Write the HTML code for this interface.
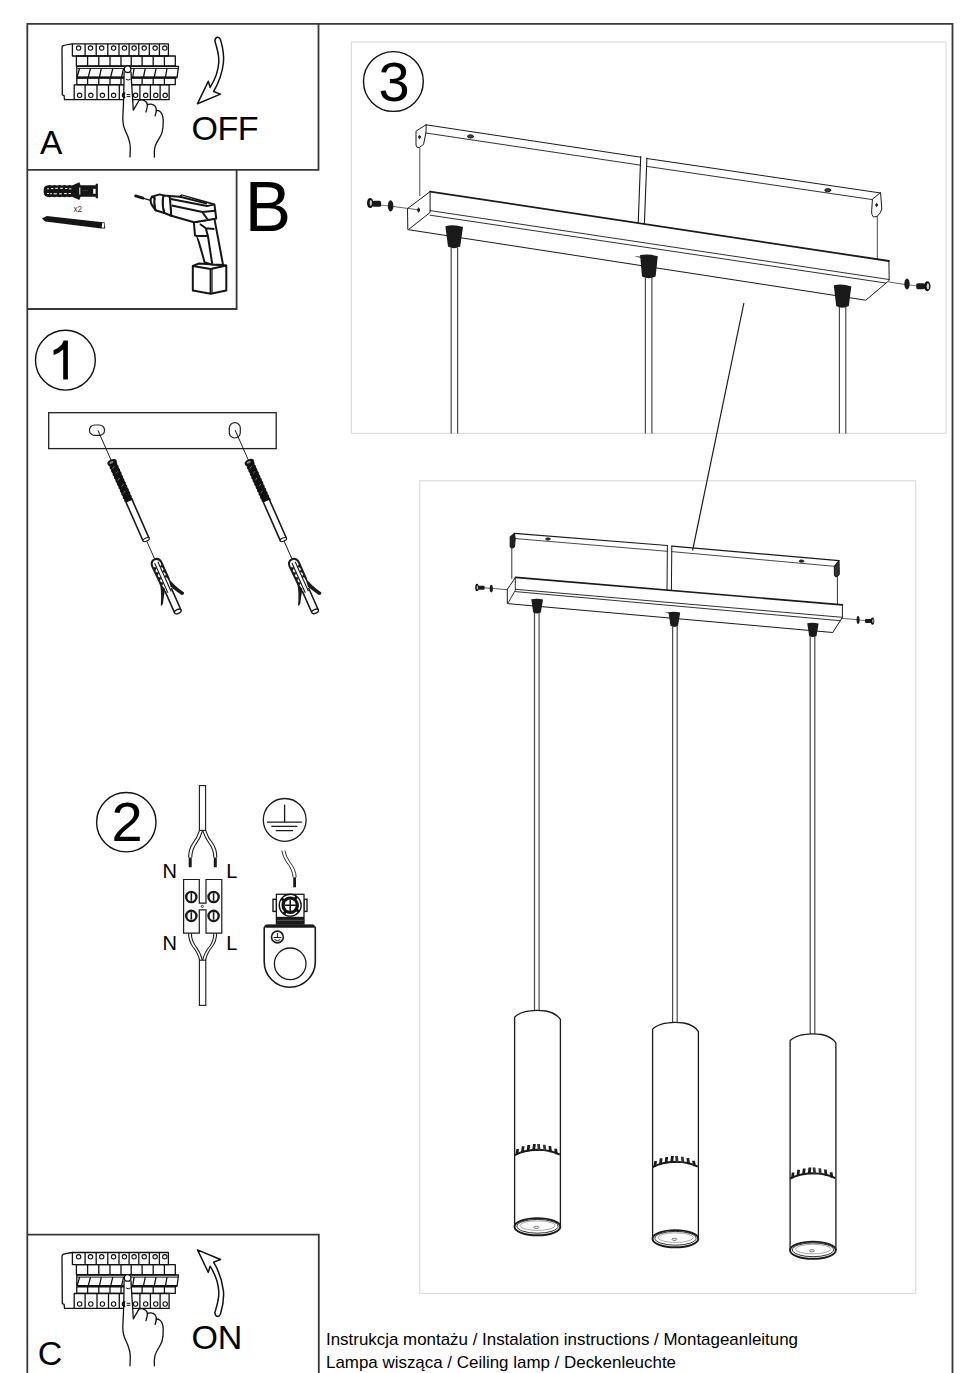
<!DOCTYPE html>
<html><head><meta charset="utf-8">
<style>
html,body{margin:0;padding:0;background:#fff;width:970px;height:1373px;overflow:hidden}
svg{display:block;position:absolute;left:0;top:0}
text{font-family:"Liberation Sans",sans-serif;fill:#000}
</style></head><body>
<svg width="970" height="1373" viewBox="0 0 970 1373">
<g fill="none" stroke="#383838" stroke-width="1.8">
<!-- outer frame -->
<path d="M27.3 1373 V23.8 H952.5 V1373"/>
<!-- panel A -->
<path d="M27.3 169.9 H318.5 V23.8"/>
<!-- panel B -->
<path d="M27.3 309 H236.6 V169.9"/>
<!-- panel C -->
<path d="M27.3 1234.6 H318.8 V1373"/>
</g>
<!-- light gray panel frames -->
<g fill="none" stroke="#ddd" stroke-width="1.2">
<rect x="351.4" y="42" width="594.6" height="391.4"/>
<rect x="419.7" y="480.7" width="495.9" height="812.7"/>
</g>

<!-- PANEL 3 drawing -->
<g fill="none" stroke="#1a1a1a" stroke-width="1" stroke-linejoin="round" stroke-linecap="round">
<!-- bracket -->
<path d="M425.9 124.8 L640.7 157.2 M646.9 158.5 L880.6 193"/>
<path d="M425.9 133 L640.7 165.2 M646.9 166.4 L872.4 199.6" stroke-width="0.9"/>
<path d="M425.9 124.8 L416 131.2 L416 145 Q416.5 148.5 419 147.5 L423.5 144.5 L425.9 133 Z"/>
<path d="M880.6 193 L881.8 209 Q881 213 877 216.5 L873.5 217 Q871.5 215 871.6 212 L872.4 199.6 Z"/>
<path d="M419.8 147.8 V195.8 M877.3 216.5 V258.5" stroke-width="0.8"/>
<path d="M640.7 156.6 L638.2 222.9 M646.9 158 L644.4 223.6" stroke-width="1.1"/>
<ellipse cx="470.5" cy="136.4" rx="3" ry="1.6" fill="#444"/>
<ellipse cx="827.8" cy="190.2" rx="3" ry="1.6" fill="#444"/>
<ellipse cx="419.5" cy="137" rx="0.8" ry="1.6" fill="#444"/>
<ellipse cx="876.6" cy="205" rx="0.8" ry="1.6" fill="#444"/>
<!-- box -->
<path d="M430.1 191.6 L888.9 261" stroke-width="1.8"/>
<path d="M430.1 191.6 L407.5 208.6 L407.8 229.6 L865.8 300.2 L889.2 280.4 L888.9 261"/>
<path d="M430.1 191.6 V212.5 L409.4 228.8"/>
<path d="M430.1 210.6 L888.9 279.5" stroke-width="0.9"/>
<path d="M430.1 215.2 L885.6 283" stroke-width="0.9"/>
<ellipse cx="418.6" cy="210" rx="0.9" ry="2" fill="#333"/>
<!-- screws -->
<path d="M393 206.5 L418.5 209.8 M888.9 282 L905.4 284.5" stroke-width="0.7"/>
</g>
<g fill="#1a1a1a" stroke="none">
<!-- grips -->
<path d="M445.4 226.2 Q454 224.2 463 227 L460.2 246.5 Q454 250 448 246.5 Z"/>
<path d="M640.1 255.1 Q649 253.5 657.8 256.3 L655.6 276.5 Q649 280 642 276.5 Z"/>
<path d="M633.9 256 L641 256.8 L641 258 Z"/>
<path d="M833.8 285.3 Q842.5 283.5 851.3 286.5 L848.8 306 Q842.5 309.5 836.2 306 Z"/>
<!-- left screw -->
<path d="M381 205.2 L388 205.8" stroke="#444" stroke-width="0.7"/>
<rect x="372.5" y="200.8" width="8.6" height="6" rx="1.6"/>
<ellipse cx="370.2" cy="203.1" rx="3.2" ry="5" fill="#111"/>
<ellipse cx="370.8" cy="203.1" rx="1.2" ry="3" fill="#ccc"/>
<ellipse cx="390.6" cy="205.9" rx="2.8" ry="5.6"/>
<!-- right screw -->
<path d="M909.5 285 L916.5 285.8" stroke="#444" stroke-width="0.7"/>
<rect x="916.2" y="283.2" width="8.8" height="6" rx="1.6"/>
<ellipse cx="927.3" cy="286.3" rx="3.2" ry="5" fill="#111"/>
<ellipse cx="927.9" cy="286.3" rx="1.3" ry="3" fill="#ccc"/>
<ellipse cx="907" cy="284" rx="2.7" ry="5.4"/>
</g>
<!-- cords -->
<g fill="none" stroke="#4a4a4a" stroke-width="1.2">
<path d="M451.2 248 V433.4 M457.6 248 V433.4"/>
<path d="M645.4 277.5 V433.4 M651.9 277.5 V433.4"/>
<path d="M839.4 307 V433.4 M845.8 307 V433.4"/>
</g>
<path d="M743.9 303 L692.6 550.4" stroke="#1a1a1a" stroke-width="1.2" fill="none"/>

<!-- PANEL 4 drawing -->
<g fill="none" stroke="#1a1a1a" stroke-width="1" stroke-linejoin="round" stroke-linecap="round">
<!-- bracket -->
<path d="M514.4 533.4 L667.4 545.5 M671.8 546.2 L839 560.6" stroke-width="1.2"/>
<path d="M515.5 538.6 L667.4 551.3 M671.8 551.6 L834.4 566.3" stroke-width="0.8"/>
<path d="M514.4 533.4 L510.2 537 L510.2 546.5 Q511.5 549.5 514.5 546.5 L515.2 538.6 Z" fill="#222" stroke-width="1.1"/>
<path d="M839 560.6 L839.3 574 Q838 577 835.5 576.5 L834.4 575 L834.4 566.3 Z" fill="#333" stroke-width="1.1"/>
<path d="M511.8 548 V578.5 M837.4 576.5 V603.7" stroke-width="0.9"/>
<path d="M667.4 545.5 L667 590.2 M671.8 546.2 L671.4 590.6" stroke-width="1"/>
<ellipse cx="547.9" cy="539" rx="2.2" ry="1.1" fill="#222"/>
<ellipse cx="801.5" cy="561.1" rx="2.2" ry="1.1" fill="#222"/>
<!-- box -->
<path d="M515.5 577.4 L842.4 604.8" stroke-width="1.7"/>
<path d="M515.3 577.6 L507.3 589.4 L507.3 603.6 L832.8 632.5 L842.4 617.3 L842.4 604.8"/>
<path d="M515.3 577.6 V590.4 L508 603" stroke-width="0.9"/>
<path d="M515.5 589.3 L842.4 617.3" stroke-width="0.9"/>
<path d="M515.5 591.6 L840.1 620.7" stroke-width="0.9"/>
<path d="M484.6 587.8 L489.8 588.3 M492.9 588.5 L507.3 589.7 M842.4 618.5 L857 619.6" stroke-width="0.7"/>
</g>
<g fill="#1a1a1a" stroke="none">
<path d="M531.3 599.3 Q537 598 543 599.5 L540.8 612.5 Q537 614.5 533.2 612.5 Z"/>
<path d="M668.5 612.2 Q674.3 611 680.2 612.5 L678 625.8 Q674.3 628 670.5 625.8 Z"/>
<path d="M664 612.3 L669 612.6 L669 613.4 Z"/>
<path d="M807.2 623.3 Q812.9 622 818.6 623.6 L816.5 636 Q812.9 638 809.2 636 Z"/>
<rect x="478.2" y="585.7" width="6.4" height="4" rx="1"/>
<ellipse cx="477" cy="587.5" rx="1.8" ry="3.7" fill="#111"/>
<ellipse cx="477.4" cy="587.5" rx="0.7" ry="2.1" fill="#bbb"/>
<ellipse cx="491.3" cy="588.6" rx="1.6" ry="3.8"/>
<path d="M859.4 620 L865.2 620.6" stroke="#333" stroke-width="0.7"/>
<rect x="865" y="618.9" width="6.6" height="4.1" rx="1"/>
<ellipse cx="872.5" cy="621.1" rx="1.8" ry="3.6" fill="#111"/>
<ellipse cx="872.9" cy="621.1" rx="0.7" ry="2" fill="#bbb"/>
<ellipse cx="858.1" cy="619.9" rx="1.5" ry="3.9"/>
</g>
<!-- cords -->
<g fill="none" stroke="#4a4a4a" stroke-width="1.2">
<path d="M534.5 612.5 V1011 M539.1 612.5 V1011"/>
<path d="M672.6 625.8 V1023 M677.2 625.8 V1023"/>
<path d="M810.2 636 V1034.5 M814.8 636 V1034.5"/>
</g>
<!-- lamps -->
<defs>
<g id="lamp">
<path d="M514.6 1017 Q520 1012 530 1010.8 Q537 1009.8 546 1011 Q556 1013 560.4 1019.4 V1227 M514.6 1017 V1226.5" fill="#fff" stroke="#1a1a1a" stroke-width="1.3"/>
<path d="M514.6 1155.2 Q524 1150.2 537.1 1149.8 Q551 1150 559.8 1154.7" fill="none" stroke="#1a1a1a" stroke-width="2"/>
<g stroke="none">
<path d="M516.3 1149.1 L519.0 1149.1 L518.2 1154.7 L515.5 1154.7 Z" fill="#1a1a1a"/>
<path d="M521.8 1146.3 L524.5 1146.3 L523.8 1152.6 L521.0 1152.6 Z" fill="#1a1a1a"/>
<path d="M527.4 1144.9 L530.1 1144.9 L529.4 1151.2 L526.6 1151.2 Z" fill="#1a1a1a"/>
<path d="M533.0 1144.1 L535.8 1144.1 L535.0 1150.4 L532.2 1150.4 Z" fill="#1a1a1a"/>
<path d="M537.1 1144.1 L539.9 1144.1 L540.6 1150.4 L537.9 1150.4 Z" fill="#333"/>
<path d="M542.9 1144.7 L545.6 1144.7 L546.4 1151.0 L543.6 1151.0 Z" fill="#333"/>
<path d="M548.5 1145.9 L551.2 1145.9 L552.0 1152.2 L549.2 1152.2 Z" fill="#1a1a1a"/>
<path d="M554.2 1148.7 L557.0 1148.7 L557.8 1154.3 L555.0 1154.3 Z" fill="#1a1a1a"/>
</g>
<ellipse cx="537.4" cy="1226.7" rx="22.9" ry="8.6" fill="#fff" stroke="#1a1a1a" stroke-width="1.9"/>
<ellipse cx="537.5" cy="1226.3" rx="20.6" ry="6.9" fill="none" stroke="#1a1a1a" stroke-width="0.9"/>
<ellipse cx="537.6" cy="1225.6" rx="17.5" ry="4.8" fill="none" stroke="#555" stroke-width="0.5"/>
<ellipse cx="536.4" cy="1227.3" rx="2.4" ry="1.1" fill="none" stroke="#1a1a1a" stroke-width="0.6"/>
</g>
</defs>
<use href="#lamp"/>
<use href="#lamp" transform="translate(138,12)"/>
<use href="#lamp" transform="translate(275.5,23.5)"/>

<!-- PANEL 1 drawing -->
<rect x="48.7" y="412.7" width="227.5" height="35.9" fill="none" stroke="#222" stroke-width="1.3"/>
<rect x="89.5" y="425" width="15" height="10.4" rx="5" fill="none" stroke="#222" stroke-width="1.2"/>
<rect x="229.3" y="422.6" width="11" height="15.4" rx="5.5" fill="none" stroke="#222" stroke-width="1.2"/>
<defs>
<g id="screw">
<path d="M0 0 V34 M0 120 V141" stroke="#1a1a1a" stroke-width="0.9" fill="none"/>
<path d="M-4 35.5 L4 35.5 Q5.2 37.3 3.9 39.1 Q5.2 40.9 3.9 42.7 Q5.2 44.5 3.9 46.3 Q5.2 48.1 3.9 49.9 Q5.2 51.7 3.9 53.5 Q5.2 55.3 3.9 57.1 Q5.2 58.9 3.9 60.7 Q5.2 62.5 3.9 64.3 Q5.2 66.1 3.9 67.9 Q5.2 69.7 3.9 71.5 Q5.2 73.3 3.9 75.1 Q5.2 76.9 3.9 78.7 L3.6 77.5 L-3.6 77.5 Q-5.2 75.7 -3.9 73.9 Q-5.2 72.1 -3.9 70.3 Q-5.2 68.5 -3.9 66.7 Q-5.2 64.9 -3.9 63.1 Q-5.2 61.3 -3.9 59.5 Q-5.2 57.7 -3.9 55.9 Q-5.2 54.1 -3.9 52.3 Q-5.2 50.5 -3.9 48.7 Q-5.2 46.9 -3.9 45.1 Q-5.2 43.3 -3.9 41.5 Q-5.2 39.7 -3.9 37.9 Q-5.2 36.1 -3.9 34.3 Z" fill="#111"/>
<path d="M-2.2 41 L0.5 39.5 M-1 47 L1.6 45.5 M-2 54 L0.6 52.5 M-0.8 61 L1.8 59.5 M-2 68 L0.6 66.5" stroke="#999" stroke-width="0.6"/>
<ellipse cx="0" cy="35" rx="5" ry="3" fill="#111"/>
<ellipse cx="-0.6" cy="34.8" rx="2.2" ry="1.1" fill="#888"/>
<path d="M-3.3 77 L-3.3 119.5 M3.3 77 L3.3 119.5" stroke="#1a1a1a" stroke-width="1.6" fill="none"/>
<ellipse cx="0" cy="119.5" rx="3.4" ry="1.6" fill="#fff" stroke="#1a1a1a" stroke-width="1.1"/>
<path d="M-3.5 174 L-3.5 198 M3.5 174 L3.5 198" stroke="#1a1a1a" stroke-width="1.6" fill="none"/>
<ellipse cx="0" cy="198" rx="3.6" ry="2" fill="#fff" stroke="#1a1a1a" stroke-width="1.3"/>
<path d="M-0.3 141 Q-5.2 141.5 -5.2 146.5 L-4.6 166.5 M-0.3 141 Q4.4 141 4.9 146.5 L4.9 165.5" fill="none" stroke="#1a1a1a" stroke-width="2"/>
<path d="M-1.7 144.5 L-1.5 177 M1.8 144.5 L2 177" stroke="#1a1a1a" stroke-width="1.1"/>
<path d="M-4.6 148 L-1.8 149.5 L-4.5 151.5 Z M-4.5 153.5 L-1.8 155 L-4.5 157 Z M-4.4 159 L-1.7 160.5 L-4.4 162.5 Z M-4.3 164.5 L-1.7 166 L-4.3 168 Z M4.7 148.5 L1.9 150 L4.7 152 Z M4.7 154 L1.9 155.5 L4.7 157.5 Z M4.7 159.5 L2 161 L4.7 163 Z" fill="#1a1a1a" stroke="#1a1a1a" stroke-width="0.6"/>
<path d="M-5.2 164 Q-5.8 172 -13.3 186 Q-12 186.5 -10.5 185 Q-6.5 178 -2.5 172.5 Z" fill="#1a1a1a"/>
<path d="M4.6 162.5 Q6.6 173 13.4 183.2 Q12.5 185.5 10 184.5 Q6.2 178 3.4 172.5 Z" fill="#1a1a1a"/>
</g>
</defs>
<use href="#screw" transform="translate(97.9,430.3) rotate(-23.8)"/>
<use href="#screw" transform="translate(235.2,430.2) rotate(-23.8)"/>

<!-- PANEL 2 drawing -->
<g fill="none" stroke="#1a1a1a" stroke-width="1.1">
<rect x="199.4" y="785.6" width="6.2" height="44.8" fill="#fff"/>
<path d="M199.6 830.4 Q197 838 193 843 Q188.6 849 188.6 857.5 M202.6 830.4 Q200.5 838 196 844 Q191.8 850 191.8 857.5"/>
<path d="M202.6 830.4 Q205 838 209.5 844 Q213.8 850 213.8 857.5 M205.6 830.4 Q208 838 212.5 843 Q216.8 849 216.8 857.5"/>
</g>
<path d="M190.2 857.5 V867.2 M215.3 857.5 V867.2" stroke="#1a1a1a" stroke-width="3"/>
<text x="162.4" y="877.9" font-size="20">N</text>
<text x="226.2" y="877.9" font-size="20">L</text>
<text x="162.4" y="949.5" font-size="20">N</text>
<text x="226.2" y="949.5" font-size="20">L</text>
<g fill="none" stroke="#1a1a1a" stroke-width="1.2">
<path d="M183.6 879.5 H199.3 V903.2 H206 V879.5 H221.8 V933.2 H206 V909.8 H199.3 V933.2 H183.6 Z"/>
<circle cx="202.3" cy="906.4" r="1.1" stroke-width="0.8"/>
</g>
<g fill="none" stroke="#1a1a1a">
<circle cx="191.3" cy="897" r="5.1" stroke-width="2.4"/>
<circle cx="213.6" cy="897" r="5.1" stroke-width="2.4"/>
<circle cx="191.3" cy="915.9" r="5.1" stroke-width="2.4"/>
<circle cx="213.6" cy="915.9" r="5.1" stroke-width="2.4"/>
<path d="M191.3 893.3 V900.7 M213.6 893.3 V900.7 M191.3 912.2 V919.6 M213.6 912.2 V919.6" stroke-width="1.6"/>
</g>
<g fill="none" stroke="#1a1a1a" stroke-width="1.1">
<path d="M188.6 933.2 Q188.6 941 193 947 Q198 953 199.6 960.2 M191.4 933.2 Q191.4 940 195.5 946 Q200.3 952 202.4 960.2"/>
<path d="M216.6 933.2 Q216.6 941 212 947 Q207 953 205.6 960.2 M213.8 933.2 Q213.8 940 210 946 Q204.5 952 202.6 960.2"/>
<rect x="199.4" y="960.2" width="6.4" height="45.2" fill="#fff"/>
</g>
<!-- ground symbol -->
<g fill="none" stroke="#1a1a1a" stroke-width="1.3">
<circle cx="284.7" cy="819.9" r="21.4"/>
<path d="M284.6 804.8 V822 M267 822.2 H301.9 M271.4 826.3 H297.4 M275.8 830.6 H293"/>
<path d="M281.8 850.5 Q282.5 856 286.5 862 Q292.8 870 293 877.3 M285 850.5 Q285.7 856 289.5 861.5 Q296 869.5 296.2 877.3" stroke-width="0.9"/>
</g>
<path d="M294.6 877.3 V887.3" stroke="#1a1a1a" stroke-width="2.8"/>
<!-- ground terminal -->
<path d="M264.2 961.7 V929 Q264.2 925.2 268 925.2 H311.5 Q315.3 925.2 315.3 929 V961.7 A25.55 25.55 0 0 1 264.2 961.7 Z" fill="#fff" stroke="#1a1a1a" stroke-width="1.6"/>
<path d="M265.5 926.2 H314" stroke="#1a1a1a" stroke-width="3"/>
<circle cx="290.2" cy="963.8" r="15.8" fill="none" stroke="#1a1a1a" stroke-width="1.3"/>
<circle cx="277.4" cy="937" r="5.9" fill="none" stroke="#1a1a1a" stroke-width="1.6"/>
<path d="M277.4 933 V937.5 M273.5 937.5 H281.3 M274.5 939.5 Q277.4 942 280.3 939.5" fill="none" stroke="#1a1a1a" stroke-width="1"/>
<rect x="273" y="899.3" width="3.5" height="12.1" fill="#fff" stroke="#1a1a1a" stroke-width="1.4"/>
<rect x="304" y="899.3" width="3" height="12.1" fill="#fff" stroke="#1a1a1a" stroke-width="1.4"/>
<rect x="276.4" y="894.3" width="27.6" height="29.7" fill="#fff" stroke="#1a1a1a" stroke-width="1.3"/>
<rect x="276.4" y="916.8" width="27.6" height="7.5" fill="#1a1a1a"/>
<path d="M277 920.3 H303.5" stroke="#777" stroke-width="0.7"/>
<circle cx="290.2" cy="905.2" r="11.6" fill="#111"/>
<circle cx="290.2" cy="905.2" r="9.5" fill="none" stroke="#fff" stroke-width="1.5" stroke-dasharray="12 2.9" stroke-dashoffset="7.5"/>
<circle cx="290.2" cy="905.2" r="5.6" fill="#fff"/>
<path d="M290.2 899.4 V911 M284.4 905.2 H296" stroke="#111" stroke-width="1.5"/>

<!-- PANEL A / C breakers -->
<defs>
<g id="breaker">
<g fill="none" stroke="#111" stroke-width="1.3" stroke-linejoin="round">
<path d="M72.4 43.8 Q66 44.6 63.2 45.7 Q62 46.3 62 48 L62.3 95 L64.1 95.7 L64.5 99.7 L74.2 99.7"/>
<rect x="72.4" y="43.8" width="96" height="12.2"/>
<path d="M85.1 43.8 V56 M96.2 43.8 V56 M107.8 43.8 V56 M119 43.8 V56 M129.1 43.8 V56 M138.8 43.8 V56 M149.3 43.8 V56 M159.4 43.8 V56"/>
<rect x="76.4" y="56" width="98.9" height="9.9"/>
<path d="M87.6 56 V65.9 M98.8 56 V65.9 M110 56 V65.9 M121 56 V65.9 M131.2 56 V65.9 M142.1 56 V65.9 M153.2 56 V65.9 M164.4 56 V65.9"/>
<path d="M76.8 66.3 H178.5 L177.1 77.3 H76.8 Z"/>
<path d="M77.5 68.4 H178.2" stroke-width="1"/>
<path d="M79.6 68.4 L77.1 77 M90.5 68.4 L88.3 77 M101.3 68.4 L99.5 77 M112.8 68.4 L110.7 77 M123.6 68.4 L121.6 77 M134.1 68.4 L132.7 77 M145.3 68.4 L143.5 77 M156.1 68.4 L154.3 77 M167 68.4 L165.5 77"/>
<path d="M76.8 77.4 H177" stroke-width="2"/>
<rect x="76.8" y="78.2" width="98.5" height="6.5"/>
<path d="M87.6 78.2 V84.7 M98.8 78.2 V84.7 M110 78.2 V84.7 M121 78.2 V84.7 M131.2 78.2 V84.7 M142.1 78.2 V84.7 M153.2 78.2 V84.7 M164.4 78.2 V84.7"/>
<rect x="74.2" y="84.8" width="94.9" height="14.9"/>
<path d="M85.1 84.8 V99.7 M97 84.8 V99.7 M108.5 84.8 V99.7 M119.3 84.8 V99.7 M129.4 84.8 V99.7 M139.9 84.8 V99.7 M150.4 84.8 V99.7 M160.1 84.8 V99.7"/>
</g>
<g fill="#fff" stroke="#111" stroke-width="1.1">
<circle cx="78.6" cy="48.1" r="2.2"/>
<circle cx="90.5" cy="48.1" r="2.2"/>
<circle cx="101.7" cy="48.1" r="2.2"/>
<circle cx="113.6" cy="48.1" r="2.2"/>
<circle cx="124.4" cy="48.1" r="2.2"/>
<circle cx="134.1" cy="48.1" r="2.2"/>
<circle cx="144.2" cy="48.1" r="2.2"/>
<circle cx="155.1" cy="48.1" r="2.2"/>
<circle cx="164.8" cy="48.1" r="2.2"/>
<circle cx="79.6" cy="95.3" r="2.2"/>
<circle cx="90.8" cy="95.3" r="2.2"/>
<circle cx="102.4" cy="95.3" r="2.2"/>
<circle cx="113.6" cy="95.3" r="2.2"/>
<circle cx="124.5" cy="95.3" r="2.2"/>
<circle cx="135.6" cy="95.3" r="2.2"/>
<circle cx="145.7" cy="95.3" r="2.2"/>
<circle cx="155.8" cy="95.3" r="2.2"/>
<circle cx="165.2" cy="95.3" r="2.2"/>
</g>
<path d="M124.1 72 L131 72 C131.6 85 132.6 97 133.3 110.1 L139 100.5 C141 99.6 145 100 147.3 104 C149.5 103.6 154 104 156.3 110.3 C160 110 163.2 114 163.2 120 C163.4 125 163 129 162 132.6 C160 138 155 143 154.4 157.1 L130 157.1 C130.4 146 126 133 124.5 128.8 C122.5 124 122.6 118 123 113.5 C123.6 104 124 85 124.1 72 Z" fill="#fff" stroke="none"/>
<g fill="none" stroke="#111" stroke-width="1.3" stroke-linecap="round" stroke-linejoin="round">
<path d="M124.1 72.6 C124 85 123.6 104 123 113.5 C122.5 120 123 125 124.5 128.8 C126 132.5 127.8 136 128.4 138 C129.8 142 130.4 146 130.3 148 C130.2 152 130 155 130 157.1"/>
<path d="M131 72.2 C131.6 85 132.6 97 133.3 110.1 L139 100.5 C140.5 99.8 142 99.8 143 100.2 C145 100.8 146.7 102 147.3 104 C147.8 106 147.2 108 145.9 112"/>
<path d="M147.3 105 C148 104.5 149.5 104 151 104.2 C153.5 104.5 155.5 106 156.2 108.5 C156.6 111 156 113.5 155.1 115.8"/>
<path d="M156.3 110.3 C157.5 110.3 159 110.6 160 111.5 C162 113 163 116 163.2 120 C163.4 125 163 129 162 132.6 C161 135.5 160 137 158.9 138.8 C157.5 141 156 143.5 155.1 146.4 C154.3 149 154 152 154.4 157.1"/>
<path d="M126.2 79.4 Q128.2 81 130.3 79.4" stroke-width="1"/>
<path d="M127 94.6 H130 M127 96.6 H130" stroke-width="1"/>
<path d="M124.6 93 Q123.2 95.3 124.6 97.6" stroke-width="1.6"/>
</g>
<circle cx="127.6" cy="69.2" r="3.3" fill="#fff" stroke="#111" stroke-width="1.3"/>
</g>

<path id="arrowOff" d="M214.9 41 C216.5 47 219.3 54 218.8 62 C218.3 72 214.8 80 210.1 87.4 L208.3 81.3 L197.5 103.7 L220.5 94.1 L213.6 91.5 C218 84 222 75 223.4 63 C224.5 52 222 45 220.3 39.3 C219 36.3 215.3 36.3 214.9 41 Z"/>
</defs>
<use href="#breaker"/>
<use href="#breaker" transform="translate(0,1208.7)"/>
<g fill="#fff" stroke="#111" stroke-width="1.5" stroke-linejoin="round">
<use href="#arrowOff"/>
<use href="#arrowOff" transform="translate(0,1353.6) scale(1,-1)"/>
</g>

<!-- PANEL B drawing -->
<!-- wall plug -->
<g>
<path d="M47 185.6 Q49.5 184.6 52 185.6 Q54.5 184.6 57 185.6 Q59.5 184.6 62 185.6 Q64.5 184.6 67 185.6 Q69.5 184.6 72 185.4 L79.3 182.3 L80.6 185.3 L95.7 185.3 L95.7 183.8 L97.9 183.8 L97.9 198.2 L95.7 198.2 L95.7 196.8 L80.6 196.8 L79.3 200 L72 196.8 Q69.5 197.6 67 196.8 Q64.5 197.6 62 196.8 Q59.5 197.6 57 196.8 Q54.5 197.6 52 196.8 Q49.5 197.6 47 196.8 Q43.6 196.5 43.6 191 Q43.6 185.8 47 185.6 Z" fill="#151515"/>
<g stroke="#fff" stroke-width="1" stroke-linecap="round">
<path d="M47.5 188.8 H48.5 M51.5 188.6 H53 M55.5 188.3 H57.5 M60.5 188.3 H62.5 M65.5 188.5 H67 M69.5 188.8 H71"/>
<path d="M47.5 193.5 H48.5 M50.5 193.7 H51.5 M54 193.8 H56.5 M59.5 193.8 H61.5 M64.5 193.6 H66.5 M69 193.5 H70.5"/>
</g>
<rect x="79.3" y="187.5" width="1" height="7" fill="#fff"/>
<rect x="93.2" y="188.8" width="2.4" height="5" fill="#fff"/>
<path d="M82.5 190.6 H88" stroke="#555" stroke-width="0.6"/>
</g>
<text x="73.4" y="212" font-size="8.2" fill="#333" style="fill:#333">x2</text>
<!-- screw -->
<path d="M42 218.3 L46 216.6 L46.7 215.9 L104.9 222.6 L105.2 228.4 L101.5 228.6 L45.2 221.4 L44 220.6 Z" fill="#151515"/>
<rect x="102" y="223" width="2.3" height="4.6" fill="#fff" transform="rotate(6 103 225)"/>
<!-- drill -->
<path d="M135.6 195.9 L143 198.2" stroke="#151515" stroke-width="2.8" stroke-linecap="round"/>
<path d="M143 198.2 L150.5 200.3" stroke="#151515" stroke-width="1.2"/>
<g fill="#fff" stroke="#151515" stroke-width="2" stroke-linejoin="round">
<!-- battery -->
<path d="M192.8 266 L199 263.5 L226.3 265.6 L226.3 290.5 L210.6 293.8 L192.8 290.5 Z"/>
<path d="M192.8 266 L210.6 268.9 L226.3 265.6 M210.6 268.9 V293.8" />
<path d="M212.2 268.6 V293.4" stroke-width="0.9"/>
<!-- handle -->
<path d="M193.9 222.3 L195 235.5 L197.1 236 L204.7 262.5 L210 264 L212.3 264.5 L223.1 265.1 L214.4 218.6 Z"/>
<path d="M197.1 236 L207.9 235.9 L212.3 264.5 M205.8 228.3 L207.9 235.9 M200 224 L205.8 228.3 L214.4 229"/>
<!-- body -->
<path d="M169 195.9 L180.1 196.8 L182 195.4 L214.4 204.4 L216.3 218.6 L208 220 L194 222.3 L171.3 215.8 Z"/>
<path d="M170.8 199.1 L207 206.1 L214.4 204.4 M171.7 205.6 L202.4 212.1 L208 220 M202.4 212.1 L215.2 210.7 M182 195.4 L180.1 196.8 L207 203.6"/>
<!-- chuck -->
<path d="M163.4 195.4 L169 195.9 L169.9 198.2 L171.3 215.8 L164.3 213 Q161.5 204 163.4 195.4 Z"/>
<path d="M151.8 196.8 L159.7 194.4 L163.4 195.4 Q161.5 204 164.3 213 L155.5 210.3 Q153.6 203 154.6 197.7"/>
<path d="M151.8 196.8 Q149.2 201 152.3 205.6 L155.5 210.3 Q153.6 203 154.6 197.7 Z"/>
</g>
<!-- circled numbers -->
<g fill="none" stroke="#111" stroke-width="1.4">
<circle cx="65.4" cy="360.2" r="29.9"/>
<circle cx="126.3" cy="822.2" r="29.7"/>
<circle cx="393.4" cy="81.5" r="29.9"/>
</g>
<text x="40" y="153.6" font-size="33.5">A</text>
<text x="244.8" y="231.2" font-size="69.5">B</text>
<text x="37.8" y="1365" font-size="34">C</text>
<text x="191.4" y="140.4" font-size="34" letter-spacing="-0.4">OFF</text>
<text x="191.4" y="1348.8" font-size="34">ON</text>
<path d="M67.9 340.5 L67.9 379.5 L63.2 379.5 L63.2 349.5 Q59.5 353.2 53.6 354.9 L53.5 350.2 Q58.5 348.4 61.5 344.8 Q63 342.8 63.6 340.5 Z" fill="#000"/>
<text x="127.2" y="840.8" font-size="56" text-anchor="middle">2</text>
<text x="394" y="101" font-size="56" text-anchor="middle">3</text>
<text x="326" y="1345.3" font-size="16.4" textLength="472" lengthAdjust="spacingAndGlyphs">Instrukcja montażu / Instalation instructions / Montageanleitung</text>
<text x="326" y="1367.5" font-size="16.4" textLength="350" lengthAdjust="spacingAndGlyphs">Lampa wisząca / Ceiling lamp / Deckenleuchte</text>
</svg>
</body></html>
